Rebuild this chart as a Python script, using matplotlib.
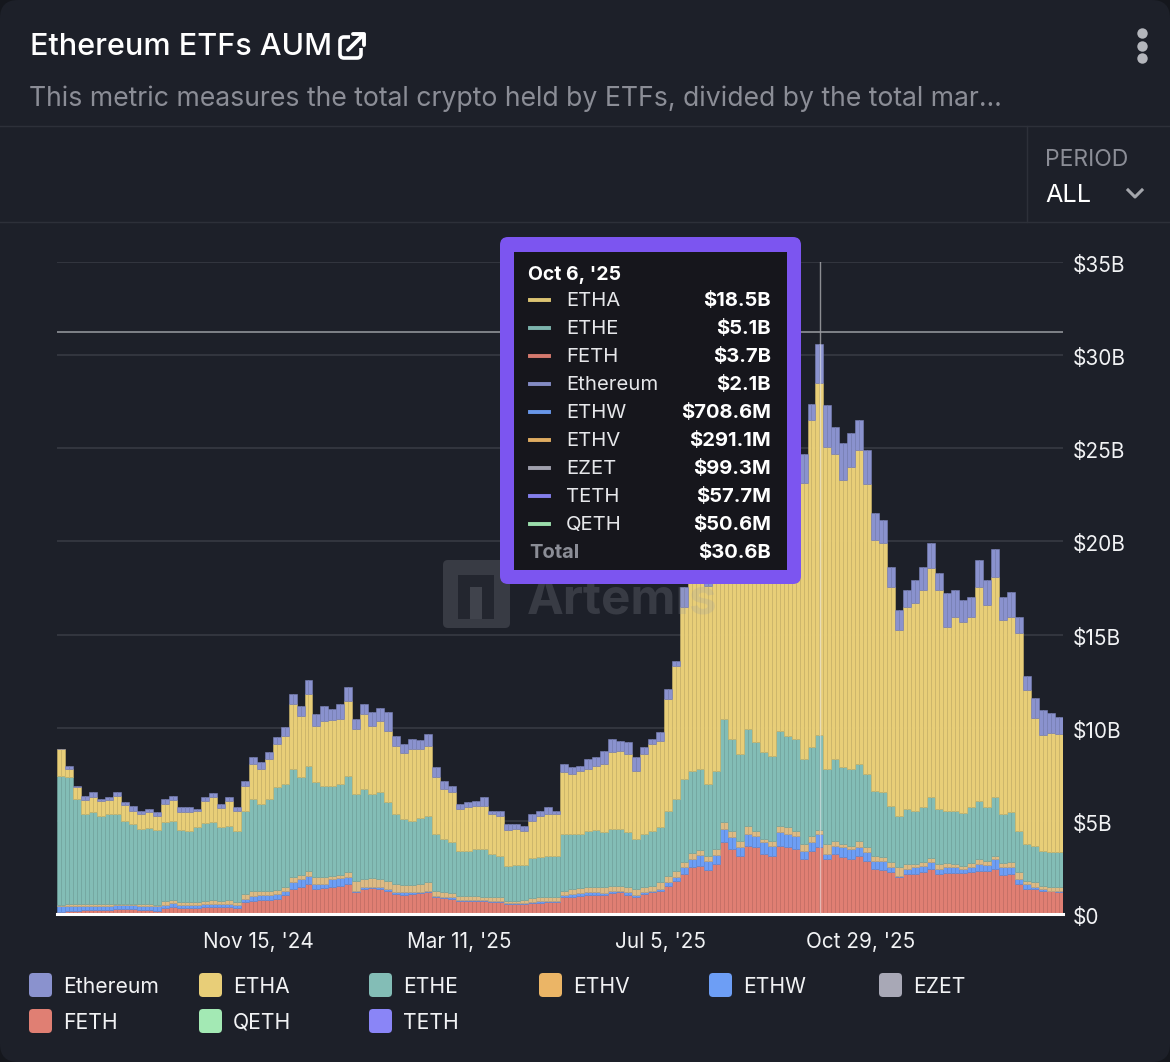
import numpy as np
import matplotlib
matplotlib.use("Agg")
import matplotlib.pyplot as plt
import matplotlib.dates as mdates
from matplotlib.patches import FancyBboxPatch, Rectangle
from matplotlib.colors import to_rgb
from matplotlib.transforms import Affine2D
from datetime import date

plt.rcParams['font.family'] = ['Inter', 'DejaVu Sans']

# Upper edge of each stacked band, in $B
feth_top = [.09,.14,.18,.21,.23,.21,.21,.27,.25,.25,.21,.21,.18,.32,.39,.32,.32,.32,.36,.36,.36,.36,.32,.63,.72,.75,.75,.8,1.04,1.34,1.47,1.61,
 1.34,1.4,1.43,1.52,1.61,1.16,1.34,1.4,1.34,1.25,1.07,1.04,1.07,1.11,1.16,.89,.86,.8,.68,.68,.68,.68,.63,.63,.54,.54,.54,.57,.59,.63,.63,
 .89,.93,.98,1.04,1.04,1.04,1.11,1.16,1.04,.89,1.07,1.16,1.25,1.52,
 1.79,2.15,2.5,2.59,2.38,2.68,3.85,3.49,3.13,3.67,3.58,3.22,3.13,3.67,3.61,3.49,
 2.95,3.4,3.58,2.95,3.22,3.08,2.95,3.13,2.86,2.42,2.36,2.24,1.97,2.15,2.15,2.24,2.42,2.15,2.18,2.18,2.18,2.27,2.33,2.33,2.42,2.11,2.15,1.61,1.34,1.34,1.25,1.22,1.16]
ethw_top = [.45,.45,.45,.45,.45,.45,.45,.5,.48,.48,.45,.45,.43,.5,.58,.5,.5,.5,.54,.56,.54,.56,.48,.8,.98,1.02,1.04,1.07,1.25,1.7,1.88,2.06,
 1.61,1.61,1.88,1.93,1.97,1.25,1.43,1.47,1.43,1.34,1.16,1.16,1.16,1.16,1.25,.98,.93,.89,.75,.75,.75,.75,.72,.72,.61,.59,.59,.63,.68,.72,.72,
 1.04,1.07,1.11,1.16,1.16,1.11,1.22,1.25,1.16,1.04,1.16,1.25,1.34,1.7,
 1.97,2.5,2.95,3.18,2.86,3.18,4.56,4.11,3.58,4.29,4.2,3.85,3.67,4.42,4.29,4.2,
 3.4,3.85,4.29,3.22,3.67,3.58,3.49,3.58,3.31,2.86,2.86,2.5,2.06,2.42,2.5,2.59,2.77,2.42,2.5,2.5,2.42,2.5,2.68,2.65,2.95,2.5,2.5,1.88,1.61,1.43,1.34,1.25,1.22]
ethv_top = [.5,.52,.54,.54,.54,.52,.54,.56,.54,.54,.52,.52,.5,.68,.75,.63,.63,.63,.72,.75,.72,.75,.63,1.07,1.25,1.25,1.25,1.29,1.47,1.97,2.11,2.29,
 1.97,1.97,2.06,2.11,2.24,1.79,1.88,1.93,1.88,1.75,1.61,1.57,1.57,1.61,1.7,1.25,1.16,1.11,.98,.98,.98,.93,.89,.89,.72,.72,.75,.86,.89,.93,.93,
 1.25,1.34,1.4,1.43,1.43,1.43,1.52,1.52,1.43,1.34,1.43,1.52,1.7,2.06,
 2.33,2.77,3.26,3.45,3.13,3.49,4.92,4.47,3.94,4.74,4.47,4.03,3.94,4.74,4.65,4.47,
 3.76,4.2,4.51,3.76,3.94,3.76,3.67,3.9,3.58,3.13,3.04,2.77,2.5,2.68,2.68,2.77,3.0,2.68,2.72,2.68,2.59,2.72,2.95,2.83,3.13,2.72,2.77,2.24,1.79,1.7,1.52,1.43,1.43]
ethe_top = [7.42,7.33,6.17,5.37,5.46,5.28,5.37,5.37,5.01,4.83,4.56,4.62,4.51,4.92,4.97,4.51,4.47,4.65,4.87,4.92,4.65,4.74,4.47,5.55,6.17,5.9,6.17,6.8,6.98,7.78,7.33,7.96,
 7.07,6.89,6.89,6.98,7.42,6.44,6.71,6.44,6.53,5.99,5.37,5.1,5.01,5.15,5.28,4.29,4.03,3.85,3.4,3.36,3.49,3.49,3.22,3.13,2.59,2.65,2.65,3.01,3.08,3.13,3.13,
 4.29,4.29,4.29,4.47,4.51,4.38,4.56,4.56,4.38,4.03,4.29,4.47,4.65,5.55,
 6.17,7.25,7.69,7.78,6.98,7.69,10.47,9.39,8.59,9.93,9.21,8.68,8.5,9.84,9.57,9.39,
 8.32,8.94,9.6,7.78,8.32,7.87,7.78,8.05,7.51,6.62,6.53,5.81,5.28,5.64,5.55,5.72,6.26,5.64,5.55,5.55,5.4,5.72,6.08,5.72,6.26,5.37,5.46,4.47,3.76,3.67,3.4,3.31,3.31]
etha_top = [8.85,7.78,6.8,6.12,6.3,6.05,6.12,6.35,5.87,5.55,5.37,5.46,5.28,5.9,6.12,5.46,5.46,5.55,6.05,6.26,5.69,6.05,5.55,6.89,8.05,7.78,8.32,9.12,9.57,11.27,10.64,11.81,
 10.11,10.38,10.41,10.47,11.45,9.93,10.73,10.11,10.38,9.84,9.03,8.62,8.86,8.86,9.03,7.33,6.71,6.53,5.64,5.72,5.81,5.81,5.37,5.28,4.51,4.56,4.47,5.01,5.28,5.37,5.37,
 7.6,7.51,7.69,7.78,7.96,8.05,8.68,8.77,8.59,7.69,8.59,9.12,9.3,11.54,
 13.3,16.5,18.2,19.0,17.6,20.3,20.6,20.1,19.6,19.9,20.6,21.1,22.0,22.8,23.3,22.7,
 23.11,26.5,28.5,25.08,24.7,23.3,24.0,24.9,23.1,20.07,19.9,17.57,15.24,16.49,16.67,17.39,18.55,17.39,15.42,15.96,15.69,15.96,17.57,16.58,18.1,15.78,15.96,15.06,
 12.0,10.5,9.6,9.7,9.66]
total_top = [8.85,7.96,6.89,6.35,6.53,6.17,6.26,6.53,5.99,5.81,5.55,5.64,5.46,6.17,6.35,5.72,5.72,5.64,6.26,6.48,5.9,6.26,5.72,7.16,8.41,8.14,8.68,9.48,10.02,11.8,11.18,12.56,
 10.73,11.18,11.0,11.27,12.16,10.47,11.27,10.82,11.05,10.82,9.57,9.12,9.39,9.36,9.66,7.87,7.16,6.89,5.9,5.99,6.08,6.26,5.55,5.55,4.83,4.83,4.74,5.37,5.55,5.72,5.55,
 8.05,7.87,7.96,8.32,8.41,8.77,9.39,9.3,9.21,8.41,8.95,9.39,9.75,12.07,
 13.6,17.55,18.9,19.8,18.5,21.2,21.5,21.0,20.5,20.8,21.5,22.0,23.0,24.0,24.6,24.0,
 24.72,27.4,30.6,27.3,26.15,25.26,25.8,26.5,24.9,21.5,21.15,18.64,16.3,17.39,17.93,18.64,19.89,18.28,17.21,17.39,16.85,17.03,19.0,17.93,19.62,17.03,17.3,15.96,
 12.8,11.6,10.95,10.8,10.57]

legend_names = ['Ethereum','ETHA','ETHE','ETHV','ETHW','EZET','FETH','QETH','TETH']
colors = {'Ethereum':'#8A92CE','ETHA':'#E8CE78','ETHE':'#83BDB6','ETHV':'#EBB566','ETHW':'#6D9EF5',
          'EZET':'#A8A8B6','FETH':'#E07F73','QETH':'#A3E9B4','TETH':'#8A85F7'}
bar_colors = dict(colors, ETHV='#DDBB85')
y_ticks = [0,5,10,15,20,25,30,35]
y_labels = ['$0','$5B','$10B','$15B','$20B','$25B','$30B','$35B']
x_tick_dates = [date(2024,11,15),date(2025,3,11),date(2025,7,5),date(2025,10,29)]
x_tick_labels = ["Nov 15, '24","Mar 11, '25","Jul 5, '25","Oct 29, '25"]
tip_names = ['ETHA','ETHE','FETH','Ethereum','ETHW','ETHV','EZET','TETH','QETH']
tip_values = ['$18.5B','$5.1B','$3.7B','$2.1B','$708.6M','$291.1M','$99.3M','$57.7M','$50.6M']

BG = '#1D2029'; GRID = '#33363F'; W = 1170; H = 1062
fig = plt.figure(figsize=(W/100, H/100), dpi=100, facecolor='#15171D')

back = fig.add_axes([0,0,1,1], zorder=0); back.set_xlim(0,W); back.set_ylim(H,0); back.axis('off')
back.add_patch(FancyBboxPatch((0,0),W,H,boxstyle='round,pad=0,rounding_size=18',fc=BG,ec='none'))
for yy in (126,222):
    back.plot([0,W],[yy,yy],color='#2D3039',lw=1)
back.plot([1027,1027],[126,222],color='#2D3039',lw=1)

ax = fig.add_axes([57/W,(H-914)/H,1006/W,652/H], zorder=1)
ax.patch.set_alpha(0)
start = mdates.date2num(date(2024,7,22))
n = len(total_top)
step = 1006/n/1.733
half = step/2
xs = start + half/2 + half*np.arange(2*n)
tops = [np.zeros(n)]+[np.array(t,float) for t in (feth_top,ethw_top,ethv_top,ethe_top,etha_top,total_top)]
names = ['FETH','ETHW','ETHV','ETHE','ETHA','Ethereum']
for k,name in enumerate(names):
    b = np.repeat(tops[k],2); h = np.repeat(np.clip(tops[k+1]-tops[k],0,None),2)
    c = np.array(to_rgb(bar_colors[name]))
    ax.bar(xs,h,bottom=b,width=half,color=bar_colors[name],edgecolor=tuple(c*0.9),linewidth=0.4,zorder=3,label=name)
ax.set_xlim(start,start+n*step); ax.set_ylim(0,35)
ax.set_yticks(y_ticks); ax.set_yticklabels(y_labels)
ax.yaxis.tick_right()
ax.set_xticks([mdates.date2num(d) for d in x_tick_dates]); ax.set_xticklabels(x_tick_labels)
ax.tick_params(axis='y',length=0,pad=7,labelsize=15,labelcolor='#F1F2F4')
ax.tick_params(axis='x',length=0,pad=13,labelsize=14.9,labelcolor='#F1F2F4')
for lab in ax.get_yticklabels():
    lab.set_transform(lab.get_transform()+Affine2D().translate(0,-2))
ax.grid(axis='y',color=GRID,lw=1.4,zorder=1); ax.grid(axis='x',visible=False)
for s in ax.spines.values(): s.set_visible(False)
ax.axhline(0,color='white',lw=2.2,zorder=5,clip_on=False)
ax.axvline(start+(820-57)/1.733,color='#E8E8EA',lw=1,alpha=.55,zorder=6)
ax.axhline((914-331.5)/18.63,color='#9A9CA2',lw=1.1,zorder=6)

ov = fig.add_axes([0,0,1,1], zorder=2); ov.set_xlim(0,W); ov.set_ylim(H,0); ov.axis('off'); ov.patch.set_alpha(0)
# watermark
ov.add_patch(FancyBboxPatch((443,560),67,68,boxstyle='round,pad=0,rounding_size=5',fc='#9A9CA6',ec='none',alpha=.22,zorder=2))
ov.add_patch(Rectangle((458,575),36,44,fc=BG,ec='none',alpha=.75,zorder=2.1))
ov.add_patch(Rectangle((470,587),12,32,fc='#9A9CA6',ec='none',alpha=.25,zorder=2.2))
ov.text(527,600,'Artemis',fontsize=35.5,fontweight='bold',color='#9A9CA6',alpha=.22,va='center',ha='left',zorder=2)
# title block
ov.text(30,47,'Ethereum ETFs AUM',fontsize=22,color='white',va='center',fontweight='medium')
ov.text(29,99,'This metric measures the total crypto held by ETFs, divided by the total mar…',fontsize=19.15,color='#8B8D96',va='center')
# external link icon
ov.add_patch(FancyBboxPatch((340,37),21,21,boxstyle='round,pad=0,rounding_size=4',fc='none',ec='white',lw=2.6))
ov.add_patch(Rectangle((350,30),16,18,fc=BG,ec='none'))
ov.plot([348,363],[50,35],color='white',lw=2.8,solid_capstyle='round')
ov.plot([353,364,364],[34,34,45],color='white',lw=2.8,solid_capstyle='round')
for yy in (33,46,58):
    ov.plot(1142,yy,'o',ms=7.5,color='#B4B6BC',mew=0)
ov.text(1045,160,'PERIOD',fontsize=16.5,color='#8B8D96',va='center')
ov.text(1045,196,'ALL',fontsize=18.2,color='white',va='center')
ov.plot([1128,1135,1142],[190,197,190],color='#A4A6AC',lw=2.2)
# legend
for i,name in enumerate(legend_names):
    col,row = i%6, i//6
    x0 = 29+170*col; yc = 985+36*row
    ov.add_patch(FancyBboxPatch((x0,yc-12),23,24,boxstyle='round,pad=0,rounding_size=4',fc=colors[name],ec='none'))
    ov.text(x0+34,yc+2,name,fontsize=15.2,color='#F1F2F4',va='center')
# tooltip
ov.add_patch(FancyBboxPatch((500,237),301,347,boxstyle='round,pad=0,rounding_size=8',fc='#7C55F0',ec='none',zorder=5))
ov.add_patch(Rectangle((514,252),273,318,fc='#16161C',ec='none',zorder=6))
ov.text(528,275,"Oct 6, '25",fontsize=14,fontweight='bold',color='white',va='center',zorder=7)
for i,(nm,val) in enumerate(zip(tip_names,tip_values)):
    yy = 299+28*i
    ov.plot([530,549],[yy+1,yy+1],color=colors[nm],lw=2.8,zorder=7,alpha=.95)
    ov.text(566,yy+2,nm,fontsize=14.6,color='#E6E7EA',va='center',zorder=7)
    ov.text(771,yy+2,val,fontsize=14.5,fontweight='bold',color='white',va='center',ha='right',zorder=7)
ov.text(529,553,'Total',fontsize=14.5,fontweight='bold',color='#8B8D96',va='center',zorder=7)
ov.text(771,553,'$30.6B',fontsize=14.5,fontweight='bold',color='white',va='center',ha='right',zorder=7)

fig.savefig('out.png',dpi=100,facecolor=fig.get_facecolor())
